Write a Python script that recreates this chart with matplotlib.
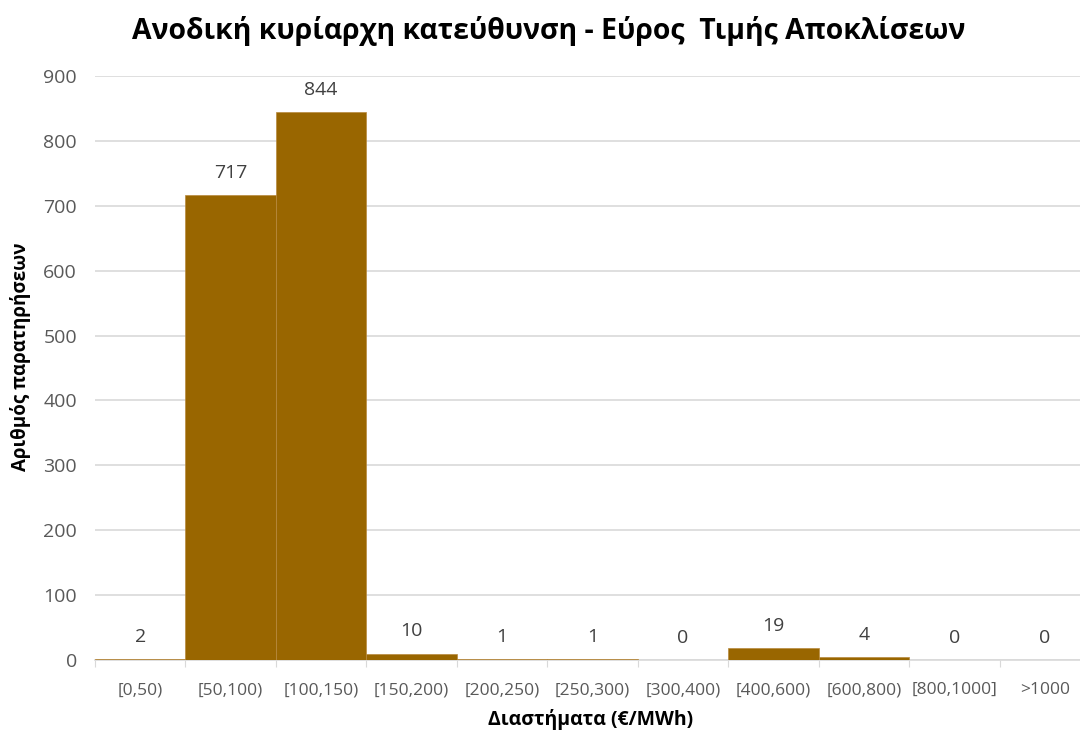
import numpy as np
from matplotlib import pyplot as plt

categories = ['[0,50)', '[50,100)', '[100,150)', '[150,200)', '[200,250)', '[250,300)',
              '[300,400)', '[400,600)', '[600,800)', '[800,1000]', '>1000']
counts = [2, 717, 844, 10, 1, 1, 0, 19, 4, 0, 0]

title = 'Ανοδική κυρίαρχη κατεύθυνση - Εύρος  Τιμής Αποκλίσεων'
xlabel = 'Διαστήματα (€/MWh)'
ylabel = 'Αριθμός παρατηρήσεων'

plt.rcParams['font.family'] = ['Open Sans', 'DejaVu Sans']

fig = plt.figure(figsize=(10.8, 7.32), dpi=100)
ax = fig.add_axes([95 / 1080, 1 - 660 / 732, 995 / 1080, 584 / 732])

x = np.arange(len(categories))
ax.bar(x, counts, width=1.0, color='#996600', edgecolor='#b8893e', linewidth=0.5, zorder=3)

# etiketes timwn
for xi, v in zip(x, counts):
    ax.text(xi, v + 34, str(v), ha='center', va='center', fontsize=14, color='#404040')

ax.set_xlim(-0.5, len(categories) - 0.5)
ax.set_ylim(0, 900)
ax.set_yticks(np.arange(0, 901, 100))
ax.tick_params(axis='y', length=0, labelsize=14, labelcolor='#595959', pad=13)
ax.set_xticks(x)
ax.set_xticklabels(categories)
ax.tick_params(axis='x', length=0, labelsize=12.5, labelcolor='#595959', pad=16)
ax.set_xticks(np.arange(-0.5, len(categories), 1), minor=True)
ax.tick_params(axis='x', which='minor', length=5, color='#d9d9d9', width=0.8)

ax.grid(axis='y', color='#d9d9d9', linewidth=1.2, zorder=0)
for s in ['top', 'right', 'left']:
    ax.spines[s].set_visible(False)
ax.spines['bottom'].set_color('#d9d9d9')
ax.spines['bottom'].set_linewidth(1.2)

fig.text(0.508, 0.958, title, ha='center', va='center', fontsize=20.4, fontweight='bold', color='black')
fig.text(0.547, 0.017, xlabel, ha='center', va='center', fontsize=14, fontweight='bold', color='black')
fig.text(0.019, 0.512, ylabel, ha='center', va='center', rotation=90, fontsize=13.5, fontweight='bold', color='black')

fig.savefig('out.png', dpi=100)
